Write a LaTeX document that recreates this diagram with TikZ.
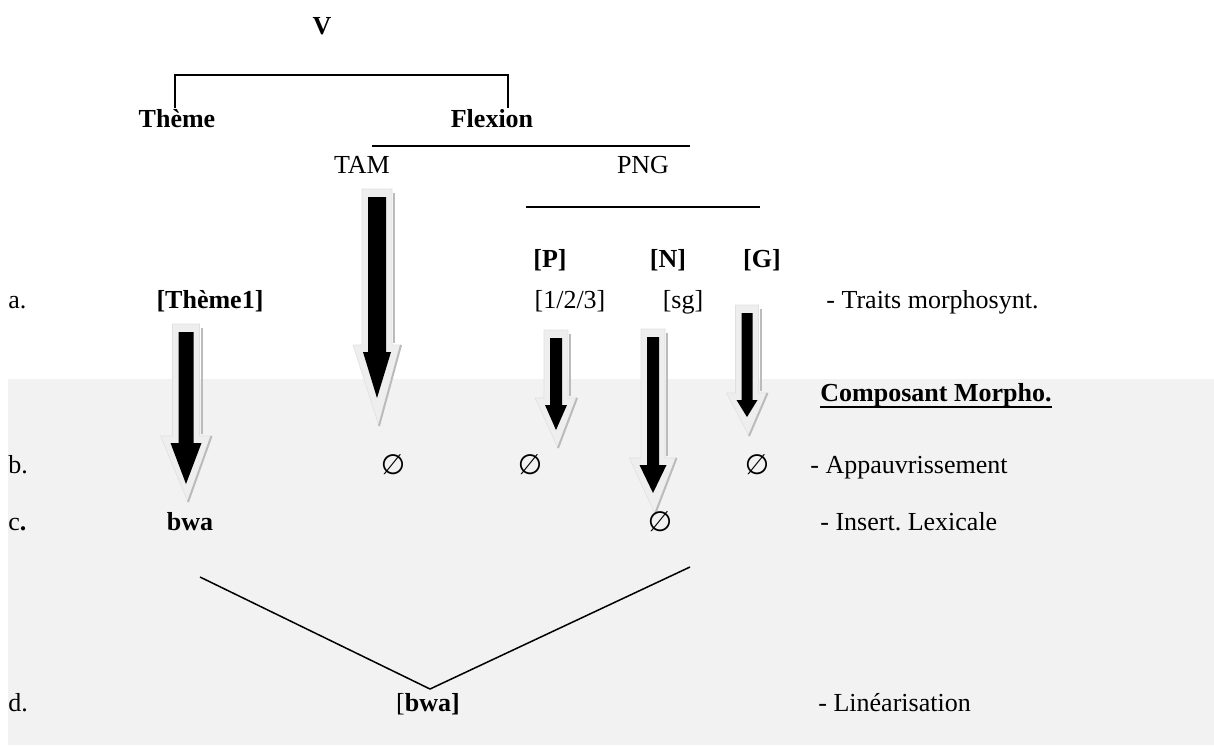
\documentclass[tikz,border=0pt]{standalone}
\usepackage{fontspec}
\setmainfont{Liberation Serif}
\newfontfamily\symfont{DejaVu Sans}
\frenchspacing
\definecolor{bandgray}{HTML}{F2F2F2}
\definecolor{outergray}{HTML}{EEEEEE}
\definecolor{shadowgray}{HTML}{BBBBBB}
\newcommand\fatarrow[7]{% center x, top, head start, tip, shaft w, head w, outer tip
  \fill[outerarrow] ({#1-#5/2-6},{#2-8}) -- ({#1+#5/2+6},{#2-8}) -- ({#1+#5/2+6},{#3-7})
     -- ({#1+#6/2+10},{#3-7}) -- ({#1+2},{#7}) -- ({#1-#6/2-10},{#3-7})
     -- ({#1-#5/2-6},{#3-7}) -- cycle;
  \draw[shadowline] ({#1+#5/2+8},{#2-4}) -- ({#1+#5/2+8},{#3-9});
  \draw[shadowline] ({#1+#6/2+10},{#3-7}) -- ({#1+2},{#7});
  \fill[black] ({#1-#5/2},{#2}) -- ({#1+#5/2},{#2}) -- ({#1+#5/2},{#3})
     -- ({#1+#6/2},{#3}) -- (#1,#4) -- ({#1-#6/2},{#3}) -- ({#1-#5/2},{#3}) -- cycle;
}
\begin{document}
\begin{tikzpicture}[x=0.5pt,y=-0.5pt,
  lbl/.style={font=\fontsize{13}{15}\selectfont, inner sep=0pt, anchor=mid},
  lblw/.style={lbl, anchor=mid west},
  bl/.style={lbl, font=\fontsize{13}{15}\selectfont\bfseries},
  emptyset/.style={lbl, anchor=center, font=\fontsize{14}{16}\selectfont\symfont},
  treeline/.style={line width=0.9pt},
  vline/.style={line width=0.75pt},
  outerarrow/.style={fill=outergray, draw=black!12, line width=0.3pt},
  shadowline/.style={draw=shadowgray, line width=1pt}]
\useasboundingbox (0,0) rectangle (1214,745);
\fill[bandgray] (8,379) rectangle (1214,745);

% tree
\node[bl] (V) at (322,30) {V};
\node[bl] (theme) at (177,123) {Thème};
\node[bl] (flexion) at (492,123) {Flexion};
\node[lbl] (tam) at (362,169) {TAM};
\node[lbl] (png) at (643,169) {PNG};
\coordinate (brL) at (175,108);
\coordinate (brTL) at (175,75);
\coordinate (brTR) at (508,75);
\coordinate (brR) at (508,108);
\draw[treeline] (brL) -- (brTL) -- (brTR) -- (brR);
\coordinate (flL) at (372,146);
\coordinate (flR) at (690,146);
\draw[treeline] (flL) -- (flR);
\coordinate (pnL) at (526,207);
\coordinate (pnR) at (760,207);
\draw[treeline] (pnL) -- (pnR);

\node[bl] (P) at (550,263) {[P]};
\node[bl] (N) at (668,263) {[N]};
\node[bl] (G) at (762,263) {[G]};

% row a
\node[lblw] (a) at (8,304) {a.};
\node[bl] (theme1) at (210,304) {[Thème1]};
\node[lbl] (pval) at (570,304) {[1/2/3]};
\node[lbl] (nval) at (683,304) {[sg]};
\node[lblw] (traits) at (826,304) {- Traits morphosynt.};

\node[bl, anchor=mid west] (comp) at (820,397) {Composant Morpho.};
\draw[line width=1.1pt] ([yshift=-2.6pt]comp.base west) -- ([yshift=-2.6pt]comp.base east);

% arrows
\fatarrow{186}{332}{443}{484}{15}{31}{502}
\fatarrow{377}{197}{352}{398}{18}{28}{426}
\fatarrow{556}{338}{405}{430}{12}{22}{448}
\fatarrow{653}{337}{465}{493}{12}{27}{514}
\fatarrow{747}{313}{400}{417}{11}{21}{436}

% row b
\node[lblw] (b) at (8,469) {b.};
\node[emptyset] (e1) at (393,465) {∅};
\node[emptyset] (e2) at (530,465) {∅};
\node[emptyset] (e3) at (757,465) {∅};
\node[lblw] (appauv) at (810,469) {- Appauvrissement};

% row c
\node[lblw] (c) at (8,526) {c\textbf{.}};
\node[bl] (bwa) at (190,526) {bwa};
\node[emptyset] (e4) at (660,522) {∅};
\node[lblw] (insert) at (820,526) {- Insert. Lexicale};

% row d
\node[lblw] (d) at (8,707) {d.};
\node[lbl] (bwalin) at (428,707) {[\textbf{bwa]}};
\node[lblw] (lin) at (818,707) {- Linéarisation};

\coordinate (vL) at (200,577);
\coordinate (vB) at (430,689);
\coordinate (vR) at (690,567);
\draw[vline] (vL) -- (vB) -- (vR);
\end{tikzpicture}
\end{document}
